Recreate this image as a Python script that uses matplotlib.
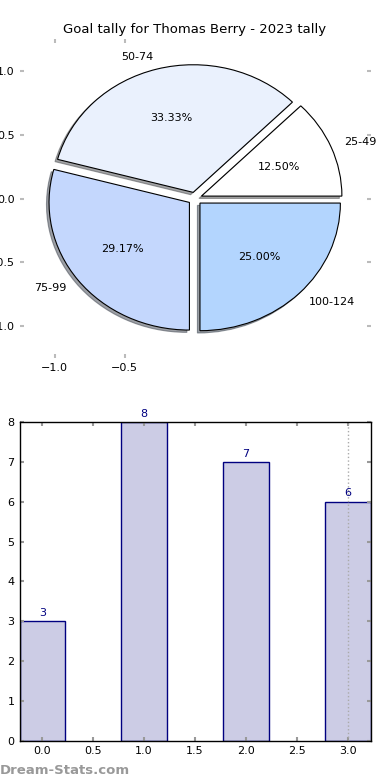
import matplotlib
matplotlib.use('Agg')
import matplotlib.pyplot as plt

# data
labels = ['25-49', '50-74', '75-99', '100-124']
goals = [3, 8, 7, 6]
pie_colors = ['#ffffff', '#eaf1fd', '#c4d7fd', '#b3d5fe']
bar_x = [0, 1, 2, 3]
title = 'Goal tally for Thomas Berry - 2023 tally'

plt.rcParams['font.family'] = ['DejaVu Sans']
plt.rcParams['font.size'] = 8

fig, (ax1, ax2) = plt.subplots(2, 1, figsize=(3.9, 7.8), dpi=100)
fig.subplots_adjust(left=0.05, right=0.95, top=0.95, bottom=0.05, hspace=0.2)

# pie
ax1.pie(goals, labels=labels, colors=pie_colors, explode=[0.05] * 4,
        autopct='%.2f%%', shadow={'ox': -0.013, 'oy': -0.013}, startangle=0,
        wedgeprops={'edgecolor': 'black', 'linewidth': 0.8},
        textprops={'fontsize': 8})
ax1.set_aspect('auto')
ax1.set_xlim(-1.25, 1.25)
ax1.set_ylim(-1.25, 1.25)
ax1.set_frame_on(False)
ax1.set_xticks([-1.0, -0.5])
ax1.set_yticks([-1.0, -0.5, 0.0, 0.5, 1.0])
ax1.tick_params(direction='in', length=3, color='#bbbbbb', width=1.5,
                top=True, right=True, labelsize=8)
ax1.set_title(title, fontsize=9.5, pad=4)

# bars
bars = ax2.bar(bar_x, goals, width=0.45, align='center',
               facecolor=(0, 0, 0.5, 0.2), edgecolor='navy', linewidth=1)
for x, v in zip(bar_x, goals):
    ax2.text(x, v + 0.08, str(v), ha='center', va='bottom', color='navy', fontsize=8)
ax2.axvline(3.0, color='#aaaaaa', linestyle=':', linewidth=1)
ax2.set_xlim(-0.225, 3.225)
ax2.set_ylim(0, 8)
ax2.set_xticks([0.0, 0.5, 1.0, 1.5, 2.0, 2.5, 3.0])
ax2.set_yticks(range(0, 9))
ax2.tick_params(direction='in', length=3, color='#999999', width=1.5,
                top=True, right=True, labelsize=8)
for s in ax2.spines.values():
    s.set_linewidth(1)

fig.text(0.0, 0.004, 'Dream-Stats.com', color='#999999', fontsize=9.5,
         fontweight='bold', ha='left', va='bottom')

fig.savefig('out.png', dpi=100)
